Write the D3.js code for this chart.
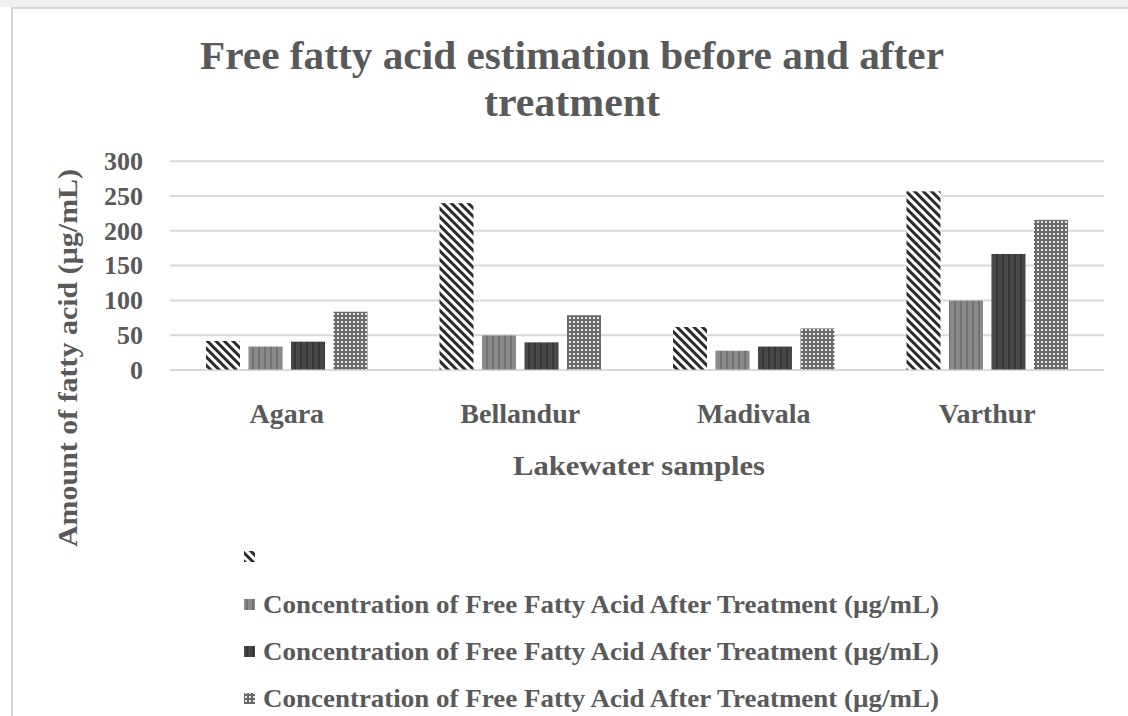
<!DOCTYPE html>
<html><head><meta charset="utf-8">
<script src="https://cdn.jsdelivr.net/npm/d3@7"></script>
<style>body{margin:0;background:#fff}svg{display:block}</style>
</head><body>
<script>
const categories = ["Agara","Bellandur","Madivala","Varthur"];
const seriesNames = ["", "Concentration of Free Fatty Acid After Treatment (µg/mL)", "Concentration of Free Fatty Acid After Treatment (µg/mL)", "Concentration of Free Fatty Acid After Treatment (µg/mL)"];
const beforeValues = [41, 239, 61, 256];
const after1Values = [33, 49, 27, 99];
const after2Values = [40, 39, 33, 166];
const after3Values = [83, 78, 59, 215];
const yTicks = [0, 50, 100, 150, 200, 250, 300];
const titleLines = ["Free fatty acid estimation before and after", "treatment"];
const xTitle = "Lakewater samples";
const yTitle = "Amount of fatty acid (µg/mL)";

const allSeries = [beforeValues, after1Values, after2Values, after3Values];
const W = 1128, H = 716;
const svg = d3.select("body").append("svg").attr("width", W).attr("height", H);
const FONT = "'Liberation Serif','Times New Roman',serif";
const TXT = "#595959";

const defs = svg.append("defs");
const p0 = defs.append("pattern").attr("id","p0").attr("patternUnits","userSpaceOnUse")
  .attr("width",6).attr("height",6).attr("patternTransform","rotate(-45)");
p0.append("rect").attr("width",6).attr("height",6).attr("fill","#fff");
p0.append("rect").attr("width",3).attr("height",6).attr("fill","#2b2b2b");
const p1 = defs.append("pattern").attr("id","p1").attr("patternUnits","userSpaceOnUse").attr("width",6).attr("height",6);
p1.append("rect").attr("width",6).attr("height",6).attr("fill","#8a8a8a");
p1.append("rect").attr("width",2).attr("height",6).attr("fill","#737373");
const p2 = defs.append("pattern").attr("id","p2").attr("patternUnits","userSpaceOnUse").attr("width",6).attr("height",6);
p2.append("rect").attr("width",6).attr("height",6).attr("fill","#474747");
p2.append("rect").attr("width",2).attr("height",6).attr("fill","#363636");
const p3 = defs.append("pattern").attr("id","p3").attr("patternUnits","userSpaceOnUse").attr("width",4).attr("height",4);
p3.append("rect").attr("width",4).attr("height",4).attr("fill","#6a6a6a");
p3.append("rect").attr("x",1).attr("y",1).attr("width",2).attr("height",2).attr("fill","#e6e6e6");
const fills = ["url(#p0)","url(#p1)","url(#p2)","url(#p3)"];

svg.append("rect").attr("x",0).attr("y",0).attr("width",W).attr("height",7).attr("fill","#f0f0f0");
svg.append("rect").attr("x",12).attr("y",8).attr("width",W).attr("height",H).attr("fill","#fff")
  .attr("stroke","#d6d6d6").attr("stroke-width",2);

const x = d3.scaleBand().domain(categories).range([170, 1104]).paddingInner(0).paddingOuter(0);
const xs = d3.scaleBand().domain(d3.range(4)).range([0, x.bandwidth()]).paddingInner(0.2).paddingOuter(0.847);
const y = d3.scaleLinear().domain([0, 300]).range([369.5, 160.7]);

const yAxis = d3.axisLeft(y).tickValues(yTicks).tickSize(-(1104 - 170)).tickPadding(27);
const gy = svg.append("g").attr("transform","translate(170,0)").call(yAxis);
gy.select(".domain").remove();
gy.selectAll(".tick line").attr("stroke","#d9d9d9").attr("stroke-width",2);
gy.selectAll(".tick text").attr("fill",TXT).attr("font-family",FONT).attr("font-weight","bold")
  .attr("font-size",26).attr("dy","0.34em");

categories.forEach((c, ci) => {
  allSeries.forEach((vals, si) => {
    svg.append("rect")
      .attr("x", x(c) + xs(si))
      .attr("width", xs.bandwidth())
      .attr("y", y(vals[ci]))
      .attr("height", y(0) - y(vals[ci]))
      .attr("fill", fills[si]);
  });
});

const xAxis = d3.axisBottom(x).tickSize(0).tickPadding(0);
const gx = svg.append("g").attr("transform","translate(0,423)").call(xAxis);
gx.select(".domain").remove();
gx.selectAll(".tick text").attr("fill",TXT).attr("font-family",FONT).attr("font-weight","bold")
  .attr("font-size",28).attr("dy",0);

svg.append("text").attr("x",572).attr("y",69).attr("text-anchor","middle").attr("fill",TXT)
  .attr("font-family",FONT).attr("font-weight","bold").attr("font-size",40)
  .attr("textLength",744).attr("lengthAdjust","spacingAndGlyphs").text(titleLines[0]);
svg.append("text").attr("x",572).attr("y",116).attr("text-anchor","middle").attr("fill",TXT)
  .attr("font-family",FONT).attr("font-weight","bold").attr("font-size",40)
  .attr("textLength",176).attr("lengthAdjust","spacingAndGlyphs").text(titleLines[1]);

svg.append("text").attr("x",639).attr("y",475).attr("text-anchor","middle").attr("fill",TXT)
  .attr("font-family",FONT).attr("font-weight","bold").attr("font-size",28)
  .attr("textLength",252).attr("lengthAdjust","spacingAndGlyphs").text(xTitle);
svg.append("text").attr("transform","translate(77,358) rotate(-90)").attr("text-anchor","middle").attr("fill",TXT)
  .attr("font-family",FONT).attr("font-weight","bold").attr("font-size",27)
  .attr("textLength",378).attr("lengthAdjust","spacingAndGlyphs").text(yTitle);

const legendY = [557, 605, 652, 699];
seriesNames.forEach((name, i) => {
  const g = svg.append("g").attr("transform", `translate(0,${legendY[i]})`);
  g.append("rect").attr("x",244).attr("y",-6).attr("width",11).attr("height",11).attr("fill",fills[i]);
  if (name) {
    g.append("text").attr("x",263).attr("y",8).attr("fill",TXT).attr("font-family",FONT)
      .attr("font-weight","bold").attr("font-size",25)
      .attr("textLength",676).attr("lengthAdjust","spacingAndGlyphs").text(name);
  }
});
</script>
</body></html>
